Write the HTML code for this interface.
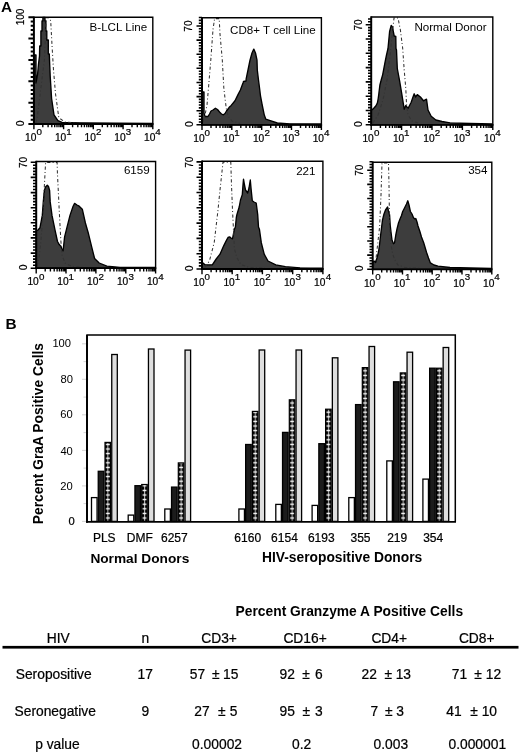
<!DOCTYPE html>
<html><head><meta charset="utf-8"><style>
html,body{margin:0;padding:0;background:#fff;}
svg{display:block;will-change:transform;}
text{font-family:"Liberation Sans", sans-serif;fill:#000;} .s{stroke:#000;stroke-width:0.22px;}
</style></head><body>
<svg width="520" height="754" viewBox="0 0 520 754">
<rect width="520" height="754" fill="#fff"/>
<polygon points="34.2,124.0 34.2,55.0 36.0,55.0 36.0,83.0 37.5,75.0 38.5,64.0 39.5,56.0 39.7,46.0 40.9,46.0 40.9,31.0 42.0,31.0 42.0,21.0 42.9,21.0 42.9,17.5 45.0,17.5 45.0,21.0 45.9,21.0 45.9,31.0 46.8,31.0 46.8,40.0 48.3,40.0 48.3,54.0 49.3,54.0 49.6,62.0 50.2,76.0 51.6,98.5 54.0,114.8 57.9,120.6 62.0,122.3 80.0,122.8 152.0,123.3 152.0,124.0" fill="#3d3d3d" stroke="#000" stroke-width="1.35" stroke-linejoin="round"/>
<polyline points="36.0,123.0 37.2,117.7 40.0,95.0 42.5,75.0 44.4,60.0 45.5,35.0 46.0,19.0 47.0,17.6 49.0,17.6 50.0,18.5 50.7,21.0 52.0,45.0 53.5,70.0 55.5,93.7 58.8,117.7 65.0,122.0 75.0,123.0" fill="none" stroke="#333" stroke-width="1.05" stroke-dasharray="3.2 2.2 1 2.4"/>
<path d="M33.9,17.3 H152.8 V124.0" fill="none" stroke="#000" stroke-width="1.4"/>
<path d="M33.9,16.6 V124.9" stroke="#000" stroke-width="2"/>
<path d="M32.9,124.0 H153.5" stroke="#000" stroke-width="1.8"/>
<path d="M28.4,124.0H33.9M30.7,119.7H33.9M30.7,115.5H33.9M30.7,111.2H33.9M30.7,106.9H33.9M28.4,102.7H33.9M30.7,98.4H33.9M30.7,94.1H33.9M30.7,89.9H33.9M30.7,85.6H33.9M28.4,81.3H33.9M30.7,77.1H33.9M30.7,72.8H33.9M30.7,68.5H33.9M30.7,64.2H33.9M28.4,60.0H33.9M30.7,55.7H33.9M30.7,51.4H33.9M30.7,47.2H33.9M30.7,42.9H33.9M28.4,38.6H33.9M30.7,34.4H33.9M30.7,30.1H33.9M30.7,25.8H33.9M30.7,21.6H33.9M28.4,17.3H33.9" stroke="#000" stroke-width="2.0"/>
<path d="M33.9,124.0v5.3M42.8,124.0v3.3M48.1,124.0v3.3M51.8,124.0v3.3M54.7,124.0v3.3M57.0,124.0v3.3M59.0,124.0v3.3M60.7,124.0v3.3M62.3,124.0v3.3M63.6,124.0v5.3M72.6,124.0v3.3M77.8,124.0v3.3M81.5,124.0v3.3M84.4,124.0v3.3M86.8,124.0v3.3M88.7,124.0v3.3M90.5,124.0v3.3M92.0,124.0v3.3M93.3,124.0v5.3M102.3,124.0v3.3M107.5,124.0v3.3M111.2,124.0v3.3M114.1,124.0v3.3M116.5,124.0v3.3M118.5,124.0v3.3M120.2,124.0v3.3M121.7,124.0v3.3M123.1,124.0v5.3M132.0,124.0v3.3M137.3,124.0v3.3M141.0,124.0v3.3M143.9,124.0v3.3M146.2,124.0v3.3M148.2,124.0v3.3M149.9,124.0v3.3M151.4,124.0v3.3M152.8,124.0v5.3" stroke="#000" stroke-width="1.4"/>
<polygon points="202.0,124.8 202.0,92.0 204.0,92.0 204.0,113.0 205.0,116.5 208.0,116.5 209.5,114.0 211.0,111.0 213.0,110.0 215.4,108.2 217.5,109.5 219.5,112.0 221.5,114.0 223.4,114.8 225.0,113.5 226.5,111.0 228.0,109.0 229.2,107.3 231.2,105.4 235.0,100.8 238.0,94.6 240.4,90.0 243.0,83.0 243.5,81.5 246.0,81.0 246.2,78.6 248.0,70.0 250.0,60.2 252.0,53.0 253.8,49.1 255.5,53.0 257.0,60.2 257.3,70.0 258.5,80.0 259.6,88.5 260.5,96.0 262.0,103.8 264.2,114.6 265.8,119.2 271.0,120.8 277.3,123.0 290.0,123.8 321.0,124.0 321.0,124.8" fill="#3d3d3d" stroke="#000" stroke-width="1.35" stroke-linejoin="round"/>
<polyline points="203.0,122.0 205.0,115.0 207.0,105.0 208.5,87.8 210.8,60.0 213.0,29.4 214.6,18.6 219.2,18.6 220.0,34.0 222.3,60.0 223.8,87.8 225.2,100.0 226.3,108.5 228.0,116.0 232.0,121.0 240.0,123.5" fill="none" stroke="#333" stroke-width="1.05" stroke-dasharray="3.2 2.2 1 2.4"/>
<path d="M202.0,17.7 H321.4 V124.8" fill="none" stroke="#000" stroke-width="1.4"/>
<path d="M202.0,17.0 V125.7" stroke="#000" stroke-width="2"/>
<path d="M201.0,124.8 H322.1" stroke="#000" stroke-width="1.8"/>
<path d="M196.5,124.8H202.0M198.8,122.0H202.0M198.8,119.2H202.0M198.8,116.3H202.0M198.8,113.5H202.0M196.5,110.7H202.0M198.8,107.9H202.0M198.8,105.0H202.0M198.8,102.2H202.0M198.8,99.4H202.0M196.5,96.6H202.0M198.8,93.7H202.0M198.8,90.9H202.0M198.8,88.1H202.0M198.8,85.3H202.0M196.5,82.5H202.0M198.8,79.6H202.0M198.8,76.8H202.0M198.8,74.0H202.0M198.8,71.2H202.0M196.5,68.3H202.0M198.8,65.5H202.0M198.8,62.7H202.0M198.8,59.9H202.0M198.8,57.1H202.0M196.5,54.2H202.0M198.8,51.4H202.0M198.8,48.6H202.0M198.8,45.8H202.0M198.8,42.9H202.0M196.5,40.1H202.0M198.8,37.3H202.0M198.8,34.5H202.0M198.8,31.6H202.0M198.8,28.8H202.0M196.5,26.0H202.0M198.8,23.2H202.0M198.8,20.4H202.0M198.8,17.5H202.0" stroke="#000" stroke-width="1.6"/>
<path d="M202.0,124.8v5.3M211.0,124.8v3.3M216.2,124.8v3.3M220.0,124.8v3.3M222.9,124.8v3.3M225.2,124.8v3.3M227.2,124.8v3.3M229.0,124.8v3.3M230.5,124.8v3.3M231.8,124.8v5.3M240.8,124.8v3.3M246.1,124.8v3.3M249.8,124.8v3.3M252.7,124.8v3.3M255.1,124.8v3.3M257.1,124.8v3.3M258.8,124.8v3.3M260.3,124.8v3.3M261.7,124.8v5.3M270.7,124.8v3.3M275.9,124.8v3.3M279.7,124.8v3.3M282.6,124.8v3.3M284.9,124.8v3.3M286.9,124.8v3.3M288.7,124.8v3.3M290.2,124.8v3.3M291.5,124.8v5.3M300.5,124.8v3.3M305.8,124.8v3.3M309.5,124.8v3.3M312.4,124.8v3.3M314.8,124.8v3.3M316.8,124.8v3.3M318.5,124.8v3.3M320.0,124.8v3.3M321.4,124.8v5.3" stroke="#000" stroke-width="1.4"/>
<polygon points="371.2,124.8 371.2,109.5 372.5,109.5 374.2,107.8 376.0,105.8 377.4,102.9 378.2,98.5 378.8,94.2 379.4,89.0 379.9,85.0 381.2,80.0 382.7,74.6 385.0,62.3 386.5,55.0 388.0,48.5 389.6,31.5 391.2,25.4 392.5,27.0 393.0,30.0 394.2,36.0 395.8,36.5 396.0,48.5 396.5,50.0 397.3,68.5 399.6,80.8 401.9,94.6 404.2,109.2 405.8,105.4 408.0,108.5 411.2,102.3 413.0,97.0 414.2,93.8 415.5,97.0 417.3,94.6 420.4,97.0 423.5,100.8 426.5,99.2 428.0,110.0 431.2,116.2 435.8,120.0 442.0,121.5 450.0,122.8 470.0,123.5 492.0,124.0 492.0,124.8" fill="#3d3d3d" stroke="#000" stroke-width="1.35" stroke-linejoin="round"/>
<polyline points="373.0,123.0 378.0,115.0 383.0,100.0 387.0,80.0 390.0,55.0 392.7,30.0 394.0,18.0 398.0,18.0 400.4,30.0 402.7,48.5 404.2,70.0 405.8,88.5 406.5,103.8 408.0,115.0 412.0,121.0 420.0,123.5" fill="none" stroke="#333" stroke-width="1.05" stroke-dasharray="3.2 2.2 1 2.4"/>
<path d="M371.2,17.0 H492.8 V124.8" fill="none" stroke="#000" stroke-width="1.4"/>
<path d="M371.2,16.3 V125.7" stroke="#000" stroke-width="2"/>
<path d="M370.2,124.8 H493.5" stroke="#000" stroke-width="1.8"/>
<path d="M365.7,124.8H371.2M368.0,121.9H371.2M368.0,119.1H371.2M368.0,116.2H371.2M368.0,113.4H371.2M365.7,110.5H371.2M368.0,107.6H371.2M368.0,104.8H371.2M368.0,101.9H371.2M368.0,99.1H371.2M365.7,96.2H371.2M368.0,93.3H371.2M368.0,90.5H371.2M368.0,87.6H371.2M368.0,84.8H371.2M365.7,81.9H371.2M368.0,79.0H371.2M368.0,76.2H371.2M368.0,73.3H371.2M368.0,70.5H371.2M365.7,67.6H371.2M368.0,64.7H371.2M368.0,61.9H371.2M368.0,59.0H371.2M368.0,56.2H371.2M365.7,53.3H371.2M368.0,50.4H371.2M368.0,47.6H371.2M368.0,44.7H371.2M368.0,41.9H371.2M365.7,39.0H371.2M368.0,36.1H371.2M368.0,33.3H371.2M368.0,30.4H371.2M368.0,27.6H371.2M365.7,24.7H371.2M368.0,21.8H371.2M368.0,19.0H371.2" stroke="#000" stroke-width="1.6"/>
<path d="M371.2,124.8v5.3M380.4,124.8v3.3M385.7,124.8v3.3M389.5,124.8v3.3M392.4,124.8v3.3M394.9,124.8v3.3M396.9,124.8v3.3M398.7,124.8v3.3M400.2,124.8v3.3M401.6,124.8v5.3M410.8,124.8v3.3M416.1,124.8v3.3M419.9,124.8v3.3M422.8,124.8v3.3M425.3,124.8v3.3M427.3,124.8v3.3M429.1,124.8v3.3M430.6,124.8v3.3M432.0,124.8v5.3M441.2,124.8v3.3M446.5,124.8v3.3M450.3,124.8v3.3M453.2,124.8v3.3M455.7,124.8v3.3M457.7,124.8v3.3M459.5,124.8v3.3M461.0,124.8v3.3M462.4,124.8v5.3M471.6,124.8v3.3M476.9,124.8v3.3M480.7,124.8v3.3M483.6,124.8v3.3M486.1,124.8v3.3M488.1,124.8v3.3M489.9,124.8v3.3M491.4,124.8v3.3M492.8,124.8v5.3" stroke="#000" stroke-width="1.4"/>
<polygon points="36.2,268.2 36.3,230.8 38.0,230.0 40.0,227.7 42.3,215.4 43.3,201.9 44.4,190.4 45.5,187.0 47.3,185.2 48.5,186.5 49.6,190.4 50.2,201.9 52.0,215.4 55.2,230.8 57.5,241.5 59.2,244.6 60.8,246.2 62.0,249.0 63.1,250.8 64.6,236.9 66.9,227.7 70.0,215.4 73.1,206.2 74.6,203.4 77.0,205.0 79.2,206.2 82.3,209.2 85.4,223.0 88.5,233.8 91.5,246.2 94.6,258.5 99.2,263.0 106.9,266.2 120.0,267.3 155.0,267.5 155.0,268.2" fill="#3d3d3d" stroke="#000" stroke-width="1.35" stroke-linejoin="round"/>
<polyline points="37.0,266.0 39.0,258.0 41.0,240.0 43.0,215.0 44.4,185.0 45.6,162.5 57.1,162.5 57.5,175.0 58.5,195.0 59.2,210.0 60.8,240.0 62.0,255.0 65.0,263.0 72.0,266.5 85.0,267.5" fill="none" stroke="#333" stroke-width="1.05" stroke-dasharray="3.2 2.2 1 2.4"/>
<path d="M36.2,161.5 H155.6 V268.2" fill="none" stroke="#000" stroke-width="1.4"/>
<path d="M36.2,160.8 V269.1" stroke="#000" stroke-width="2"/>
<path d="M35.2,268.2 H156.3" stroke="#000" stroke-width="1.8"/>
<path d="M30.7,268.2H36.2M33.0,265.2H36.2M33.0,262.1H36.2M33.0,259.1H36.2M33.0,256.1H36.2M30.7,253.1H36.2M33.0,250.0H36.2M33.0,247.0H36.2M33.0,244.0H36.2M33.0,241.0H36.2M30.7,237.9H36.2M33.0,234.9H36.2M33.0,231.9H36.2M33.0,228.9H36.2M33.0,225.8H36.2M30.7,222.8H36.2M33.0,219.8H36.2M33.0,216.8H36.2M33.0,213.7H36.2M33.0,210.7H36.2M30.7,207.7H36.2M33.0,204.7H36.2M33.0,201.6H36.2M33.0,198.6H36.2M33.0,195.6H36.2M30.7,192.6H36.2M33.0,189.5H36.2M33.0,186.5H36.2M33.0,183.5H36.2M33.0,180.5H36.2M30.7,177.4H36.2M33.0,174.4H36.2M33.0,171.4H36.2M33.0,168.4H36.2M33.0,165.3H36.2M30.7,162.3H36.2" stroke="#000" stroke-width="1.6"/>
<path d="M36.2,268.2v5.3M45.2,268.2v3.3M50.4,268.2v3.3M54.2,268.2v3.3M57.1,268.2v3.3M59.4,268.2v3.3M61.4,268.2v3.3M63.2,268.2v3.3M64.7,268.2v3.3M66.0,268.2v5.3M75.0,268.2v3.3M80.3,268.2v3.3M84.0,268.2v3.3M86.9,268.2v3.3M89.3,268.2v3.3M91.3,268.2v3.3M93.0,268.2v3.3M94.5,268.2v3.3M95.9,268.2v5.3M104.9,268.2v3.3M110.1,268.2v3.3M113.9,268.2v3.3M116.8,268.2v3.3M119.1,268.2v3.3M121.1,268.2v3.3M122.9,268.2v3.3M124.4,268.2v3.3M125.8,268.2v5.3M134.7,268.2v3.3M140.0,268.2v3.3M143.7,268.2v3.3M146.6,268.2v3.3M149.0,268.2v3.3M151.0,268.2v3.3M152.7,268.2v3.3M154.2,268.2v3.3M155.6,268.2v5.3" stroke="#000" stroke-width="1.4"/>
<polygon points="202.0,269.0 202.0,262.0 203.0,263.0 205.0,264.8 212.3,264.8 216.2,259.0 220.0,254.2 223.8,245.6 226.7,239.8 228.0,237.5 229.6,236.9 231.0,238.0 232.5,238.8 234.4,229.2 235.4,227.0 236.3,217.7 236.9,214.6 238.3,210.0 239.2,207.0 240.5,200.0 242.3,194.6 243.0,185.0 243.5,179.2 244.5,185.0 245.5,190.0 247.7,193.0 249.0,188.0 250.3,180.0 251.0,188.0 252.3,200.8 254.0,202.0 256.2,203.0 257.7,214.6 258.5,227.0 259.4,229.2 261.3,242.7 264.2,254.2 268.0,261.0 275.8,264.8 285.4,266.7 300.0,267.8 322.5,268.2 322.5,269.0" fill="#3d3d3d" stroke="#000" stroke-width="1.35" stroke-linejoin="round"/>
<polyline points="205.0,267.0 209.4,261.0 214.2,242.7 218.0,210.0 220.0,190.0 223.0,162.3 230.8,162.3 231.5,185.0 232.5,210.0 234.4,248.5 237.0,258.0 241.2,264.8 250.0,267.5 265.0,268.0" fill="none" stroke="#333" stroke-width="1.05" stroke-dasharray="3.2 2.2 1 2.4"/>
<path d="M202.0,161.3 H322.9 V269.0" fill="none" stroke="#000" stroke-width="1.4"/>
<path d="M202.0,160.6 V269.9" stroke="#000" stroke-width="2"/>
<path d="M201.0,269.0 H323.6" stroke="#000" stroke-width="1.8"/>
<path d="M196.5,269.0H202.0M198.8,265.9H202.0M198.8,262.9H202.0M198.8,259.8H202.0M198.8,256.8H202.0M196.5,253.7H202.0M198.8,250.6H202.0M198.8,247.6H202.0M198.8,244.5H202.0M198.8,241.5H202.0M196.5,238.4H202.0M198.8,235.3H202.0M198.8,232.3H202.0M198.8,229.2H202.0M198.8,226.2H202.0M196.5,223.1H202.0M198.8,220.0H202.0M198.8,217.0H202.0M198.8,213.9H202.0M198.8,210.9H202.0M196.5,207.8H202.0M198.8,204.7H202.0M198.8,201.7H202.0M198.8,198.6H202.0M198.8,195.6H202.0M196.5,192.5H202.0M198.8,189.4H202.0M198.8,186.4H202.0M198.8,183.3H202.0M198.8,180.3H202.0M196.5,177.2H202.0M198.8,174.1H202.0M198.8,171.1H202.0M198.8,168.0H202.0M198.8,165.0H202.0M196.5,161.9H202.0" stroke="#000" stroke-width="1.6"/>
<path d="M202.0,269.0v5.3M211.1,269.0v3.3M216.4,269.0v3.3M220.2,269.0v3.3M223.1,269.0v3.3M225.5,269.0v3.3M227.5,269.0v3.3M229.3,269.0v3.3M230.8,269.0v3.3M232.2,269.0v5.3M241.3,269.0v3.3M246.6,269.0v3.3M250.4,269.0v3.3M253.4,269.0v3.3M255.7,269.0v3.3M257.8,269.0v3.3M259.5,269.0v3.3M261.1,269.0v3.3M262.4,269.0v5.3M271.5,269.0v3.3M276.9,269.0v3.3M280.6,269.0v3.3M283.6,269.0v3.3M286.0,269.0v3.3M288.0,269.0v3.3M289.7,269.0v3.3M291.3,269.0v3.3M292.7,269.0v5.3M301.8,269.0v3.3M307.1,269.0v3.3M310.9,269.0v3.3M313.8,269.0v3.3M316.2,269.0v3.3M318.2,269.0v3.3M320.0,269.0v3.3M321.5,269.0v3.3M322.9,269.0v5.3" stroke="#000" stroke-width="1.4"/>
<polygon points="372.7,269.3 372.7,263.0 374.0,261.0 375.6,262.5 377.0,258.0 378.5,252.0 379.5,245.0 380.4,237.0 381.5,228.0 382.5,220.0 384.0,214.0 385.5,210.0 387.6,207.0 388.5,211.0 389.6,215.0 390.2,225.0 391.0,232.0 392.0,240.0 393.5,243.7 394.5,243.0 395.8,235.0 397.0,229.0 398.5,223.0 400.0,219.0 401.5,215.5 402.7,211.5 404.0,209.0 405.0,207.0 406.5,204.0 407.8,200.8 409.0,205.0 410.4,211.5 412.0,214.0 413.5,217.7 415.0,219.0 415.8,218.5 417.0,222.0 418.0,226.0 419.8,231.2 421.5,237.0 423.7,242.7 426.5,252.3 428.5,258.0 430.4,262.9 434.0,265.0 438.0,266.2 450.0,267.5 470.0,268.0 491.5,268.3 491.5,269.3" fill="#3d3d3d" stroke="#000" stroke-width="1.35" stroke-linejoin="round"/>
<polyline points="374.0,266.0 375.6,262.0 377.0,250.0 379.6,227.0 381.0,195.0 382.0,163.0 388.5,163.0 389.0,185.0 389.6,227.0 391.0,245.0 393.0,255.0 394.8,260.0 398.0,265.0 405.0,267.5 420.0,268.3" fill="none" stroke="#333" stroke-width="1.05" stroke-dasharray="3.2 2.2 1 2.4"/>
<path d="M372.7,162.2 H491.8 V269.3" fill="none" stroke="#000" stroke-width="1.4"/>
<path d="M372.7,161.5 V270.2" stroke="#000" stroke-width="2"/>
<path d="M371.7,269.3 H492.5" stroke="#000" stroke-width="1.8"/>
<path d="M367.2,269.3H372.7M369.5,266.5H372.7M369.5,263.6H372.7M369.5,260.8H372.7M369.5,258.0H372.7M367.2,255.1H372.7M369.5,252.3H372.7M369.5,249.5H372.7M369.5,246.6H372.7M369.5,243.8H372.7M367.2,241.0H372.7M369.5,238.2H372.7M369.5,235.3H372.7M369.5,232.5H372.7M369.5,229.7H372.7M367.2,226.8H372.7M369.5,224.0H372.7M369.5,221.2H372.7M369.5,218.3H372.7M369.5,215.5H372.7M367.2,212.7H372.7M369.5,209.8H372.7M369.5,207.0H372.7M369.5,204.2H372.7M369.5,201.3H372.7M367.2,198.5H372.7M369.5,195.7H372.7M369.5,192.9H372.7M369.5,190.0H372.7M369.5,187.2H372.7M367.2,184.4H372.7M369.5,181.5H372.7M369.5,178.7H372.7M369.5,175.9H372.7M369.5,173.0H372.7M367.2,170.2H372.7M369.5,167.4H372.7M369.5,164.5H372.7M369.5,161.7H372.7" stroke="#000" stroke-width="1.6"/>
<path d="M372.7,269.3v5.3M381.7,269.3v3.3M386.9,269.3v3.3M390.6,269.3v3.3M393.5,269.3v3.3M395.9,269.3v3.3M397.9,269.3v3.3M399.6,269.3v3.3M401.1,269.3v3.3M402.5,269.3v5.3M411.4,269.3v3.3M416.7,269.3v3.3M420.4,269.3v3.3M423.3,269.3v3.3M425.6,269.3v3.3M427.6,269.3v3.3M429.4,269.3v3.3M430.9,269.3v3.3M432.2,269.3v5.3M441.2,269.3v3.3M446.5,269.3v3.3M450.2,269.3v3.3M453.1,269.3v3.3M455.4,269.3v3.3M457.4,269.3v3.3M459.1,269.3v3.3M460.7,269.3v3.3M462.0,269.3v5.3M471.0,269.3v3.3M476.2,269.3v3.3M480.0,269.3v3.3M482.8,269.3v3.3M485.2,269.3v3.3M487.2,269.3v3.3M488.9,269.3v3.3M490.4,269.3v3.3M491.8,269.3v5.3" stroke="#000" stroke-width="1.4"/>
<path d="M82.0,521.4h6.2M83.5,503.6h4.7M82.0,485.9h6.2M83.5,468.1h4.7M82.0,450.4h6.2M83.5,432.6h4.7M82.0,414.8h6.2M83.5,397.1h4.7M82.0,379.3h6.2M83.5,361.6h4.7M82.0,343.8h6.2" stroke="#c8c8c8" stroke-width="0.8"/>
<defs><pattern id="hatch" patternUnits="userSpaceOnUse" width="6.75" height="4.6" y="0.5"><rect width="6.75" height="4.6" fill="#000"/><rect x="1.3" y="1.6" width="4.3" height="1.4" fill="#fff"/><rect x="3.1" y="0" width="0.9" height="4.6" fill="#fff" opacity="0.85"/></pattern></defs>
<rect x="91.50" y="497.6" width="5.55" height="23.8" fill="#fff" stroke="#000" stroke-width="1.3"/>
<rect x="98.25" y="471.3" width="5.55" height="50.1" fill="#1c1c1c" stroke="#000" stroke-width="1.3"/>
<g transform="translate(104.40,0)"><rect x="0.6" y="442.4" width="5.55" height="79.0" fill="url(#hatch)" stroke="#000" stroke-width="1.2"/></g>
<rect x="111.75" y="354.5" width="5.55" height="166.9" fill="#dedede" stroke="#000" stroke-width="1.3"/>
<rect x="128.20" y="515.1" width="5.55" height="6.3" fill="#fff" stroke="#000" stroke-width="1.3"/>
<rect x="134.95" y="485.7" width="5.55" height="35.7" fill="#1c1c1c" stroke="#000" stroke-width="1.3"/>
<g transform="translate(141.10,0)"><rect x="0.6" y="484.5" width="5.55" height="36.9" fill="url(#hatch)" stroke="#000" stroke-width="1.2"/></g>
<rect x="148.45" y="349.0" width="5.55" height="172.4" fill="#dedede" stroke="#000" stroke-width="1.3"/>
<rect x="164.80" y="509.0" width="5.55" height="12.4" fill="#fff" stroke="#000" stroke-width="1.3"/>
<rect x="171.55" y="487.1" width="5.55" height="34.3" fill="#1c1c1c" stroke="#000" stroke-width="1.3"/>
<g transform="translate(177.70,0)"><rect x="0.6" y="462.9" width="5.55" height="58.5" fill="url(#hatch)" stroke="#000" stroke-width="1.2"/></g>
<rect x="185.05" y="350.1" width="5.55" height="171.3" fill="#dedede" stroke="#000" stroke-width="1.3"/>
<rect x="238.90" y="509.0" width="5.55" height="12.4" fill="#fff" stroke="#000" stroke-width="1.3"/>
<rect x="245.65" y="444.5" width="5.55" height="76.9" fill="#1c1c1c" stroke="#000" stroke-width="1.3"/>
<g transform="translate(251.80,0)"><rect x="0.6" y="411.4" width="5.55" height="110.0" fill="url(#hatch)" stroke="#000" stroke-width="1.2"/></g>
<rect x="259.15" y="350.0" width="5.55" height="171.4" fill="#dedede" stroke="#000" stroke-width="1.3"/>
<rect x="275.80" y="504.4" width="5.55" height="17.0" fill="#fff" stroke="#000" stroke-width="1.3"/>
<rect x="282.55" y="432.4" width="5.55" height="89.0" fill="#1c1c1c" stroke="#000" stroke-width="1.3"/>
<g transform="translate(288.70,0)"><rect x="0.6" y="399.8" width="5.55" height="121.6" fill="url(#hatch)" stroke="#000" stroke-width="1.2"/></g>
<rect x="296.05" y="350.0" width="5.55" height="171.4" fill="#dedede" stroke="#000" stroke-width="1.3"/>
<rect x="312.10" y="505.4" width="5.55" height="16.0" fill="#fff" stroke="#000" stroke-width="1.3"/>
<rect x="318.85" y="443.7" width="5.55" height="77.7" fill="#1c1c1c" stroke="#000" stroke-width="1.3"/>
<g transform="translate(325.00,0)"><rect x="0.6" y="409.2" width="5.55" height="112.2" fill="url(#hatch)" stroke="#000" stroke-width="1.2"/></g>
<rect x="332.35" y="357.8" width="5.55" height="163.6" fill="#dedede" stroke="#000" stroke-width="1.3"/>
<rect x="348.80" y="497.6" width="5.55" height="23.8" fill="#fff" stroke="#000" stroke-width="1.3"/>
<rect x="355.55" y="404.6" width="5.55" height="116.8" fill="#1c1c1c" stroke="#000" stroke-width="1.3"/>
<g transform="translate(361.70,0)"><rect x="0.6" y="367.6" width="5.55" height="153.8" fill="url(#hatch)" stroke="#000" stroke-width="1.2"/></g>
<rect x="369.05" y="346.5" width="5.55" height="174.9" fill="#dedede" stroke="#000" stroke-width="1.3"/>
<rect x="386.80" y="460.9" width="5.55" height="60.5" fill="#fff" stroke="#000" stroke-width="1.3"/>
<rect x="393.55" y="381.8" width="5.55" height="139.6" fill="#1c1c1c" stroke="#000" stroke-width="1.3"/>
<g transform="translate(399.70,0)"><rect x="0.6" y="372.9" width="5.55" height="148.5" fill="url(#hatch)" stroke="#000" stroke-width="1.2"/></g>
<rect x="407.05" y="352.2" width="5.55" height="169.2" fill="#dedede" stroke="#000" stroke-width="1.3"/>
<rect x="422.90" y="479.1" width="5.55" height="42.3" fill="#fff" stroke="#000" stroke-width="1.3"/>
<rect x="429.65" y="368.2" width="5.55" height="153.2" fill="#1c1c1c" stroke="#000" stroke-width="1.3"/>
<g transform="translate(435.80,0)"><rect x="0.6" y="368.2" width="5.55" height="153.2" fill="url(#hatch)" stroke="#000" stroke-width="1.2"/></g>
<rect x="443.15" y="347.5" width="5.55" height="173.9" fill="#dedede" stroke="#000" stroke-width="1.3"/>
<path d="M87.0,521.9 V335.0 H455.3 V521.9" fill="none" stroke="#000" stroke-width="1.5"/>
<path d="M87.0,335.0 V522.6999999999999" stroke="#000" stroke-width="1.9"/>
<path d="M86.0,521.9 H456.0" stroke="#000" stroke-width="1.9"/>
<rect x="2.5" y="645.9" width="516" height="2.7" fill="#000"/>
<text x="25.11" y="141.28" font-size="10.2" class="s">10</text>
<text x="36.59" y="134.69" font-size="9.8" class="s">0</text>
<text x="54.92" y="141.28" font-size="10.2" class="s">10</text>
<text x="66.17" y="134.69" font-size="9.8" class="s">1</text>
<text x="84.60" y="141.28" font-size="10.2" class="s">10</text>
<text x="96.08" y="134.69" font-size="9.8" class="s">2</text>
<text x="114.37" y="141.28" font-size="10.2" class="s">10</text>
<text x="125.75" y="134.69" font-size="9.8" class="s">3</text>
<text x="144.02" y="141.28" font-size="10.2" class="s">10</text>
<text x="155.36" y="134.69" font-size="9.8" class="s">4</text>
<text transform="translate(24.49,25.22) rotate(-90) scale(0.86,1)" font-size="11.6" class="s">100</text>
<text transform="translate(24.45,126.16) rotate(-90) scale(0.9,1)" font-size="11.6" class="s">0</text>
<text x="89.59" y="31.23" font-size="11.6">B-LCL Line</text>
<text x="193.25" y="142.12" font-size="10.2" class="s">10</text>
<text x="204.59" y="135.85" font-size="9.8" class="s">0</text>
<text x="223.11" y="142.12" font-size="10.2" class="s">10</text>
<text x="234.32" y="135.85" font-size="9.8" class="s">1</text>
<text x="252.89" y="142.12" font-size="10.2" class="s">10</text>
<text x="264.40" y="135.85" font-size="9.8" class="s">2</text>
<text x="282.78" y="142.12" font-size="10.2" class="s">10</text>
<text x="294.26" y="135.85" font-size="9.8" class="s">3</text>
<text x="312.66" y="142.12" font-size="10.2" class="s">10</text>
<text x="324.12" y="135.85" font-size="9.8" class="s">4</text>
<text transform="translate(192.24,31.63) rotate(-90) scale(0.86,1)" font-size="11.6" class="s">70</text>
<text transform="translate(192.63,127.01) rotate(-90) scale(0.9,1)" font-size="11.6" class="s">0</text>
<text x="230.09" y="33.70" font-size="11.6">CD8+ T cell Line</text>
<text x="362.44" y="142.11" font-size="10.2" class="s">10</text>
<text x="373.93" y="135.63" font-size="9.8" class="s">0</text>
<text x="392.90" y="142.11" font-size="10.2" class="s">10</text>
<text x="404.08" y="135.63" font-size="9.8" class="s">1</text>
<text x="423.25" y="142.11" font-size="10.2" class="s">10</text>
<text x="434.70" y="135.63" font-size="9.8" class="s">2</text>
<text x="453.66" y="142.11" font-size="10.2" class="s">10</text>
<text x="465.08" y="135.63" font-size="9.8" class="s">3</text>
<text x="484.02" y="142.11" font-size="10.2" class="s">10</text>
<text x="495.36" y="135.63" font-size="9.8" class="s">4</text>
<text transform="translate(361.55,30.45) rotate(-90) scale(0.86,1)" font-size="11.6" class="s">70</text>
<text transform="translate(361.83,127.01) rotate(-90) scale(0.9,1)" font-size="11.6" class="s">0</text>
<text x="414.40" y="31.25" font-size="11.6">Normal Donor</text>
<text x="27.45" y="285.47" font-size="10.2" class="s">10</text>
<text x="38.93" y="279.51" font-size="9.8" class="s">0</text>
<text x="57.25" y="285.47" font-size="10.2" class="s">10</text>
<text x="68.58" y="279.51" font-size="9.8" class="s">1</text>
<text x="87.11" y="285.47" font-size="10.2" class="s">10</text>
<text x="98.59" y="279.51" font-size="9.8" class="s">2</text>
<text x="116.96" y="285.47" font-size="10.2" class="s">10</text>
<text x="128.40" y="279.51" font-size="9.8" class="s">3</text>
<text x="146.90" y="285.47" font-size="10.2" class="s">10</text>
<text x="158.32" y="279.51" font-size="9.8" class="s">4</text>
<text transform="translate(26.70,168.05) rotate(-90) scale(0.86,1)" font-size="11.6" class="s">70</text>
<text transform="translate(26.69,270.37) rotate(-90) scale(0.9,1)" font-size="11.6" class="s">0</text>
<text x="123.90" y="174.12" font-size="11.6">6159</text>
<text x="193.25" y="286.27" font-size="10.2" class="s">10</text>
<text x="204.59" y="279.73" font-size="9.8" class="s">0</text>
<text x="223.44" y="286.27" font-size="10.2" class="s">10</text>
<text x="234.75" y="279.73" font-size="9.8" class="s">1</text>
<text x="253.69" y="286.27" font-size="10.2" class="s">10</text>
<text x="265.15" y="279.73" font-size="9.8" class="s">2</text>
<text x="283.88" y="286.27" font-size="10.2" class="s">10</text>
<text x="295.39" y="279.73" font-size="9.8" class="s">3</text>
<text x="314.11" y="286.27" font-size="10.2" class="s">10</text>
<text x="325.63" y="279.73" font-size="9.8" class="s">4</text>
<text transform="translate(192.88,167.85) rotate(-90) scale(0.86,1)" font-size="11.6" class="s">70</text>
<text transform="translate(192.55,271.16) rotate(-90) scale(0.9,1)" font-size="11.6" class="s">0</text>
<text x="296.13" y="174.58" font-size="11.6">221</text>
<text x="363.89" y="286.62" font-size="10.2" class="s">10</text>
<text x="375.36" y="280.39" font-size="9.8" class="s">0</text>
<text x="393.72" y="286.62" font-size="10.2" class="s">10</text>
<text x="404.92" y="280.39" font-size="9.8" class="s">1</text>
<text x="423.50" y="286.62" font-size="10.2" class="s">10</text>
<text x="434.93" y="280.39" font-size="9.8" class="s">2</text>
<text x="453.25" y="286.62" font-size="10.2" class="s">10</text>
<text x="464.69" y="280.39" font-size="9.8" class="s">3</text>
<text x="483.02" y="286.62" font-size="10.2" class="s">10</text>
<text x="494.36" y="280.39" font-size="9.8" class="s">4</text>
<text transform="translate(363.05,175.79) rotate(-90) scale(0.86,1)" font-size="11.6" class="s">70</text>
<text transform="translate(363.23,271.34) rotate(-90) scale(0.9,1)" font-size="11.6" class="s">0</text>
<text x="468.14" y="174.22" font-size="11.6">354</text>
<text x="0.91" y="12.40" font-size="15.3" font-weight="bold">A</text>
<text x="5.54" y="328.60" font-size="15.4" font-weight="bold">B</text>
<text x="52.38" y="347.26" font-size="11.2">100</text>
<text x="60.62" y="382.96" font-size="11.2">80</text>
<text x="60.33" y="418.38" font-size="11.2">60</text>
<text x="60.40" y="454.85" font-size="11.2">40</text>
<text x="60.34" y="489.88" font-size="11.2">20</text>
<text x="68.48" y="525.15" font-size="11.2" class="s">0</text>
<text x="92.93" y="541.79" font-size="12" class="s">PLS</text>
<text x="126.73" y="541.79" font-size="12" class="s">DMF</text>
<text x="161.00" y="541.79" font-size="12" class="s">6257</text>
<text x="234.36" y="541.79" font-size="12" class="s">6160</text>
<text x="271.11" y="541.79" font-size="12" class="s">6154</text>
<text x="307.90" y="541.79" font-size="12" class="s">6193</text>
<text x="350.51" y="541.79" font-size="12" class="s">355</text>
<text x="387.13" y="541.79" font-size="12" class="s">219</text>
<text x="423.13" y="541.79" font-size="12" class="s">354</text>
<text x="90.39" y="562.80" font-size="13.7" font-weight="bold">Normal Donors</text>
<text x="262.02" y="561.82" font-size="13.8" font-weight="bold">HIV-seropositive Donors</text>
<text transform="translate(42.97,524.24) rotate(-90)" font-size="13.8" font-weight="bold">Percent GraA Positive Cells</text>
<text x="235.61" y="616.43" font-size="13.8" font-weight="bold">Percent Granzyme A Positive Cells</text>
<text x="46.80" y="642.81" font-size="13.8" class="s">HIV</text>
<text x="141.40" y="642.81" font-size="13.8" class="s">n</text>
<text x="201.27" y="642.81" font-size="13.8" class="s">CD3+</text>
<text x="283.38" y="642.81" font-size="13.8" class="s">CD16+</text>
<text x="371.38" y="642.81" font-size="13.8" class="s">CD4+</text>
<text x="458.89" y="642.81" font-size="13.8" class="s">CD8+</text>
<text x="15.74" y="679.42" font-size="13.8" class="s">Seropositive</text>
<text x="137.49" y="679.42" font-size="13.8" class="s">17</text>
<text x="189.74" y="679.42" font-size="13.8" class="s">57</text>
<text x="212.02" y="679.42" font-size="13.8" class="s">±</text>
<text x="223.11" y="679.42" font-size="13.8" class="s">15</text>
<text x="279.62" y="679.42" font-size="13.8" class="s">92</text>
<text x="302.27" y="679.42" font-size="13.8" class="s">±</text>
<text x="314.90" y="679.42" font-size="13.8" class="s">6</text>
<text x="361.46" y="679.42" font-size="13.8" class="s">22</text>
<text x="384.53" y="679.42" font-size="13.8" class="s">±</text>
<text x="395.64" y="679.42" font-size="13.8" class="s">13</text>
<text x="451.74" y="679.42" font-size="13.8" class="s">71</text>
<text x="474.27" y="679.42" font-size="13.8" class="s">±</text>
<text x="485.85" y="679.42" font-size="13.8" class="s">12</text>
<text x="14.50" y="716.48" font-size="13.8" class="s">Seronegative</text>
<text x="141.61" y="716.48" font-size="13.8" class="s">9</text>
<text x="194.37" y="716.48" font-size="13.8" class="s">27</text>
<text x="218.02" y="716.48" font-size="13.8" class="s">±</text>
<text x="229.63" y="716.48" font-size="13.8" class="s">5</text>
<text x="279.60" y="716.48" font-size="13.8" class="s">95</text>
<text x="302.53" y="716.48" font-size="13.8" class="s">±</text>
<text x="315.06" y="716.48" font-size="13.8" class="s">3</text>
<text x="370.59" y="716.48" font-size="13.8" class="s">7</text>
<text x="385.05" y="716.48" font-size="13.8" class="s">±</text>
<text x="396.14" y="716.48" font-size="13.8" class="s">3</text>
<text x="446.37" y="716.48" font-size="13.8" class="s">41</text>
<text x="470.28" y="716.48" font-size="13.8" class="s">±</text>
<text x="481.70" y="716.48" font-size="13.8" class="s">10</text>
<text x="35.15" y="749.16" font-size="13.8" class="s">p value</text>
<text x="192.12" y="749.16" font-size="13.8" class="s">0.00002</text>
<text x="292.07" y="749.16" font-size="13.8" class="s">0.2</text>
<text x="373.55" y="749.16" font-size="13.8" class="s">0.003</text>
<text x="448.52" y="749.16" font-size="13.8" class="s">0.000001</text>
</svg></body></html>
